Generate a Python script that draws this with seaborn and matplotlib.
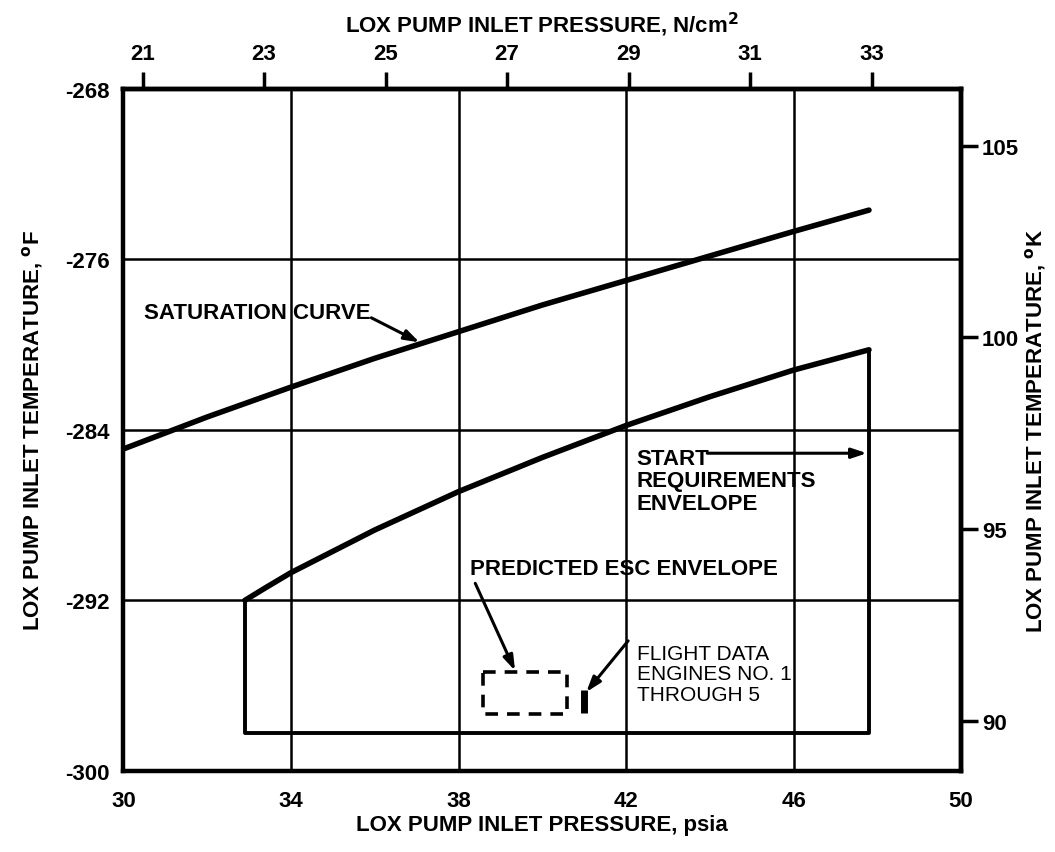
import matplotlib
matplotlib.use("Agg")
import matplotlib.pyplot as plt
import seaborn as sns
import pandas as pd
import numpy as np

# ---- data ----
sat_psi = [30.0, 32.0, 34.0, 36.0, 38.0, 40.0, 42.0, 44.0, 46.0, 47.8]
sat_degF = [-284.9, -283.4, -282.0, -280.65, -279.4, -278.15, -277.0, -275.85, -274.7, -273.7]

start_psi = [32.9, 33.4, 34.0, 36.0, 38.0, 40.0, 42.0, 44.0, 46.0, 47.8]
start_degF = [-292.0, -291.4, -290.7, -288.7, -286.9, -285.3, -283.8, -282.45, -281.2, -280.25]

env_bottom_degF = -298.2
esc_psi = [38.58, 40.6]
esc_degF = [-295.37, -297.31]
flight_psi = [41.0, 41.0]
flight_degF = [-296.2, -297.3]

x_ticks = [30, 34, 38, 42, 46, 50]
y_ticks = [-300, -292, -284, -276, -268]
top_ticks = [21, 23, 25, 27, 29, 31, 33]
right_ticks = [90, 95, 100, 105]

sns.set_style("white")
plt.rcParams['font.family'] = ['Liberation Sans', 'DejaVu Sans']
plt.rcParams['font.weight'] = 'bold'
plt.rcParams['axes.labelweight'] = 'bold'
plt.rcParams['axes.unicode_minus'] = False
for k in ['text.color', 'axes.labelcolor', 'xtick.color', 'ytick.color', 'axes.edgecolor']:
    plt.rcParams[k] = 'black'

fig = plt.figure(figsize=(10.55, 8.53), dpi=100)
ax = fig.add_axes([0.117, 0.095, 0.794, 0.80])

FS = 16
df_sat = pd.DataFrame({"psi": sat_psi, "degF": sat_degF})
df_start = pd.DataFrame({"psi": start_psi, "degF": start_degF})
sns.lineplot(data=df_sat, x="psi", y="degF", ax=ax, color="black", lw=4.0, sort=False,
             estimator=None, solid_joinstyle="round", solid_capstyle="round")
sns.lineplot(data=df_start, x="psi", y="degF", ax=ax, color="black", lw=4.0, sort=False,
             estimator=None, solid_joinstyle="round", solid_capstyle="round")

# envelope box
env_x = [start_psi[0], start_psi[0], start_psi[-1], start_psi[-1]]
env_y = [start_degF[0], env_bottom_degF, env_bottom_degF, start_degF[-1]]
df_env = pd.DataFrame({"psi": env_x, "degF": env_y})
sns.lineplot(data=df_env, x="psi", y="degF", ax=ax, color="black", lw=2.8, sort=False,
             estimator=None)

# predicted ESC envelope (dashed)
bx = [esc_psi[0], esc_psi[1], esc_psi[1], esc_psi[0], esc_psi[0]]
by = [esc_degF[0], esc_degF[0], esc_degF[1], esc_degF[1], esc_degF[0]]
ax.plot(bx, by, color="black", lw=2.6, ls=(0, (3.5, 2.5)))

# flight data bar
ax.plot(flight_psi, flight_degF, color="black", lw=5, solid_capstyle="butt")

ax.set_xlim(30, 50)
ax.set_ylim(-300, -268)
ax.set_xticks(x_ticks)
ax.set_yticks(y_ticks)
ax.grid(True, which="major", color="black", lw=1.8)
for s in ax.spines.values():
    s.set_linewidth(3.2)
    s.set_color("black")
ax.tick_params(axis="x", length=0, pad=14, labelsize=FS)
ax.tick_params(axis="y", length=0, pad=10, labelsize=FS)
ax.set_xlabel("LOX PUMP INLET PRESSURE, psia", fontsize=FS, fontweight="bold", labelpad=2)
ax.set_ylabel("LOX PUMP INLET TEMPERATURE, $^{\\mathbf{o}}$F", fontsize=FS, fontweight="bold", labelpad=14)

# secondary axes
top = ax.secondary_xaxis('top', functions=(lambda p: p * 0.689476, lambda n: n / 0.689476))
top.set_xticks(top_ticks)
top.tick_params(length=12, width=2.5, labelsize=FS, pad=6, direction="out")
top.set_xlabel("LOX PUMP INLET PRESSURE, N/cm$^{\\mathbf{2}}$", fontsize=FS, fontweight="bold", labelpad=8)
top.spines['top'].set_linewidth(3.2)

right = ax.secondary_yaxis('right', functions=(lambda f: (f - 32) * 5 / 9 + 273.15,
                                                lambda k: (k - 273.15) * 9 / 5 + 32))
right.set_yticks(right_ticks)
right.tick_params(length=12, width=2.5, labelsize=FS, pad=3, direction="out")
right.set_ylabel("LOX PUMP INLET TEMPERATURE, $^{\\mathbf{o}}$K", fontsize=FS, fontweight="bold",
                 rotation=90, labelpad=3)
right.spines['right'].set_linewidth(3.2)

# annotations
akw = dict(arrowstyle="-|>,head_length=0.9,head_width=0.3", color="black", lw=2.2, shrinkA=0, shrinkB=0)
ax.text(30.48, -278.5, "SATURATION CURVE", fontsize=FS, fontweight="bold", va="center", ha="left")
ax.annotate("", xy=(37.07, -279.9), xytext=(35.92, -278.75), arrowprops=akw)

ax.text(42.24, -286.4, "START\nREQUIREMENTS\nENVELOPE", fontsize=FS, fontweight="bold",
        va="center", ha="left", linespacing=1.1)
ax.annotate("", xy=(47.75, -285.1), xytext=(43.94, -285.1), arrowprops=akw)

ax.text(38.28, -290.5, "PREDICTED ESC ENVELOPE", fontsize=FS, va="center", ha="left")
ax.annotate("", xy=(39.35, -295.3), xytext=(38.4, -291.2), arrowprops=akw)

ax.text(42.27, -295.43, "FLIGHT DATA\nENGINES NO. 1\nTHROUGH 5", fontsize=FS - 1, fontweight="normal",
        va="center", ha="left", linespacing=1.1)
ax.annotate("", xy=(41.05, -296.3), xytext=(42.05, -293.9), arrowprops=akw)

fig.savefig("out.png", dpi=100)
